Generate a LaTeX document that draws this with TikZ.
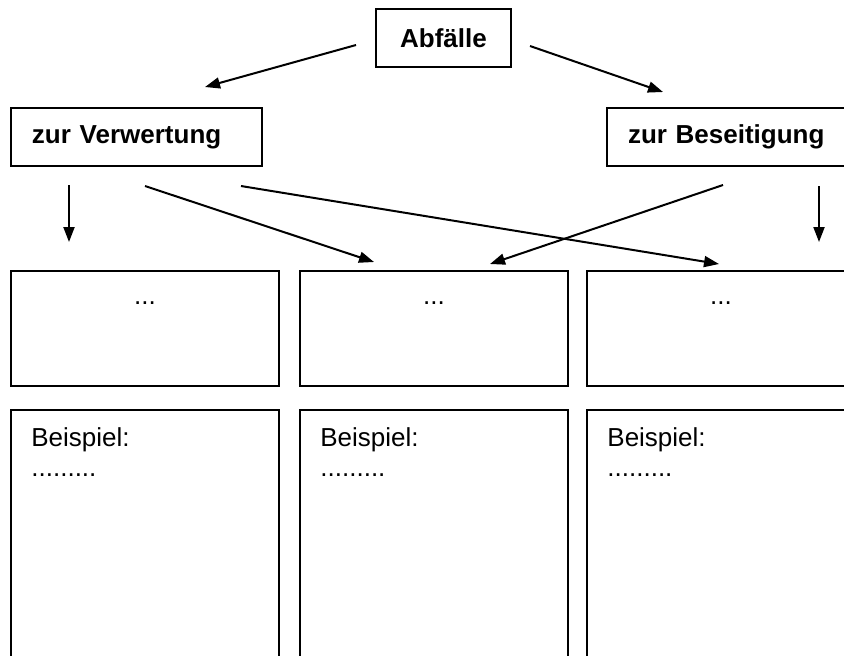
\documentclass[tikz,border=0pt]{standalone}
\usepackage{fontspec}
\setmainfont{Liberation Sans}
\usepackage{tikz}
\usetikzlibrary{calc,positioning,arrows.meta}

\newcommand{\boxfont}{\fontsize{13}{15}\selectfont}

\tikzset{
	box/.style={draw,line width=1pt,inner sep=0pt},
	headbox/.style={box,font=\boxfont\bfseries,minimum height=29pt},
	catbox/.style={headbox,text width=104.5pt,inner xsep=10.5pt,align=left},
	dotbox/.style={box,minimum width=134pt,minimum height=57.5pt},
	bspbox/.style={box,minimum width=134pt,minimum height=130pt},
	boxtext/.style={inner sep=0pt,align=left,font=\boxfont},
	arr/.style={line width=1pt,-{Triangle[length=7.5pt,width=5.5pt]}}
}

\begin{document}
\begin{tikzpicture}[x=0.5pt,y=-0.5pt]
		\useasboundingbox (0,0) rectangle (844,655);
		\clip (0,0) rectangle (844,655);
		\begin{scope}
			% top level
			\node(abf) [headbox,minimum width=67.5pt] at (443.5,38) {Abf\"alle};
			\node(verw) [catbox] at (136.5,137) {zur Verwertung};
			\node(beseit) [catbox,anchor=west] at (606,137) {zur Beseitigung};
			% middle row
			\node(dot1) [dotbox] at (145,328.5) {};
			\node(dot2) [dotbox] at (434,328.5) {};
			\node(dot3) [dotbox] at (721,328.5) {};
			\foreach \i in {1,2,3}
				\node(dottext\i) [boxtext,anchor=base] at ($(dot\i.north)+(0,34)$) {...};
			% bottom row
			\node(bsp1) [bspbox] at (145,540) {};
			\node(bsp2) [bspbox] at (434,540) {};
			\node(bsp3) [bspbox] at (721,540) {};
			\foreach \i in {1,2,3}
				\node(bsptext\i) [boxtext,anchor=north west] at ($(bsp\i.north west)+(21,18)$) {Beispiel:\\.........};
		\end{scope}
		% arrow ends
		\coordinate (abf-l) at ($(abf.west)+(-19,7)$);
		\coordinate (abf-r) at ($(abf.east)+(18,8)$);
		\coordinate (verw-l) at ($(verw.north)+(68.5,-20)$);
		\coordinate (beseit-l) at ($(beseit.north west)+(57,-15)$);
		\coordinate (verw-a) at (69,185);
		\coordinate (verw-b) at (145,186);
		\coordinate (verw-c) at (241,186);
		\coordinate (beseit-a) at (723,185);
		\coordinate (beseit-b) at (819,186);
		\coordinate (dot1-in) at ($(verw-a |- dot1.north)+(0,-28)$);
		\coordinate (dot2-l) at ($(dot2.north west)+(75,-8)$);
		\coordinate (dot2-r) at ($(dot2.north west)+(191,-6)$);
		\coordinate (dot3-l) at ($(dot3.north west)+(133,-6)$);
		\coordinate (dot3-r) at ($(beseit-b |- dot3.north)+(0,-28)$);
		\draw[arr] (abf-l) -- (verw-l);
		\draw[arr] (abf-r) -- (beseit-l);
		\draw[arr] (verw-a) -- (dot1-in);
		\draw[arr] (verw-b) -- (dot2-l);
		\draw[arr] (verw-c) -- (dot3-l);
		\draw[arr] (beseit-a) -- (dot2-r);
		\draw[arr] (beseit-b) -- (dot3-r);
	\end{tikzpicture}
\end{document}
